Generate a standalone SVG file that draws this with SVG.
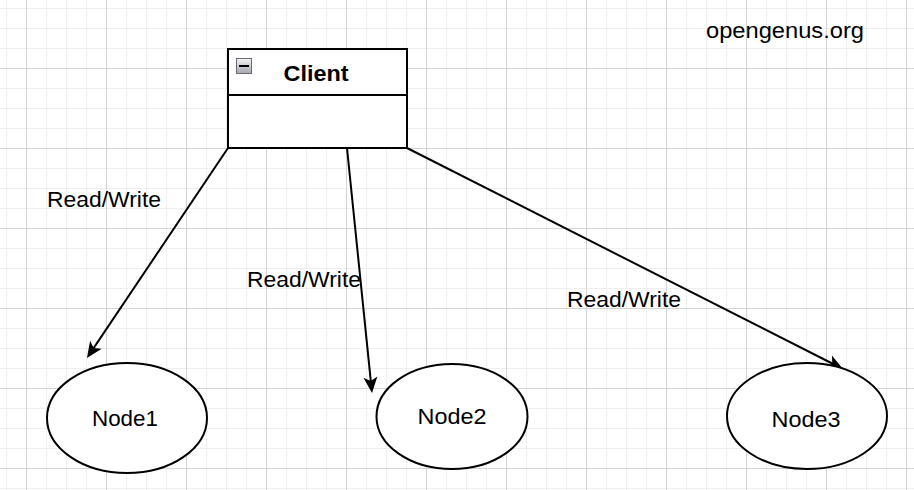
<svg xmlns="http://www.w3.org/2000/svg" width="914" height="490" viewBox="0 0 914 490">
  <defs>
    <pattern id="grid" patternUnits="userSpaceOnUse" x="26" y="68" width="80" height="80">
      <path d="M20.5,0V80M40.5,0V80M60.5,0V80M0,20.5H80M0,40.5H80M0,60.5H80" stroke="#efefef" stroke-width="1" fill="none"/>
      <path d="M0.5,0V80M0,0.5H80" stroke="#d4d4d4" stroke-width="1" fill="none"/>
    </pattern>
    <linearGradient id="iconGrad" x1="0" y1="0" x2="0" y2="1">
      <stop offset="0" stop-color="#f4f4f6"/>
      <stop offset="1" stop-color="#a4a6ae"/>
    </linearGradient>
    <marker id="arrow" markerUnits="userSpaceOnUse" markerWidth="18" markerHeight="16" refX="5" refY="7" orient="auto" overflow="visible">
      <path d="M0,0 L16,7 L0,14 L4,7 Z" fill="#000"/>
    </marker>
  </defs>
  <style>
    .lbl { font-family: "Liberation Sans", Arial, sans-serif; font-size: 22px; fill: #000; }
    .node { fill: #fff; stroke: #000; stroke-width: 2; }
    .edge { stroke: #000; stroke-width: 2; fill: none; marker-end: url(#arrow); }
  </style>
  <rect width="914" height="490" fill="#fff"/>
  <rect width="914" height="490" fill="url(#grid)"/>

  <text class="lbl" x="706" y="38" textLength="158" lengthAdjust="spacingAndGlyphs">opengenus.org</text>

  <g id="connectors">
    <line class="edge" x1="228" y1="148" x2="93.1" y2="348.9"/>
    <line class="edge" x1="347" y1="148" x2="370.9" y2="382.1"/>
    <line class="edge" x1="407" y1="148" x2="833.2" y2="364.0"/>
    <text class="lbl" x="47" y="207" textLength="114" lengthAdjust="spacingAndGlyphs">Read/Write</text>
    <text class="lbl" x="247" y="287" textLength="114" lengthAdjust="spacingAndGlyphs">Read/Write</text>
    <text class="lbl" x="567" y="307" textLength="114" lengthAdjust="spacingAndGlyphs">Read/Write</text>
  </g>

  <g id="client">
    <rect x="228" y="49" width="179" height="99" fill="#fff" stroke="#000" stroke-width="2"/>
    <line x1="228" y1="95" x2="407" y2="95" stroke="#000" stroke-width="2"/>
    <rect x="236.5" y="58.5" width="15" height="15" fill="url(#iconGrad)" stroke="#6a6c74" stroke-width="1"/>
    <line x1="239" y1="66" x2="249" y2="66" stroke="#000" stroke-width="2"/>
    <text class="lbl" x="316" y="81" text-anchor="middle" font-weight="bold" font-size="23" textLength="65" lengthAdjust="spacingAndGlyphs">Client</text>
  </g>

  <g id="node1">
    <ellipse class="node" cx="127" cy="418" rx="80" ry="55"/>
    <text class="lbl" x="125" y="426" text-anchor="middle" textLength="66" lengthAdjust="spacingAndGlyphs">Node1</text>
  </g>
  <g id="node2">
    <ellipse class="node" cx="452" cy="416.5" rx="75.5" ry="52.5"/>
    <text class="lbl" x="452" y="424" text-anchor="middle" textLength="69" lengthAdjust="spacingAndGlyphs">Node2</text>
  </g>
  <g id="node3">
    <ellipse class="node" cx="807" cy="416" rx="80" ry="53"/>
    <text class="lbl" x="806" y="427" text-anchor="middle" textLength="69" lengthAdjust="spacingAndGlyphs">Node3</text>
  </g>
</svg>
